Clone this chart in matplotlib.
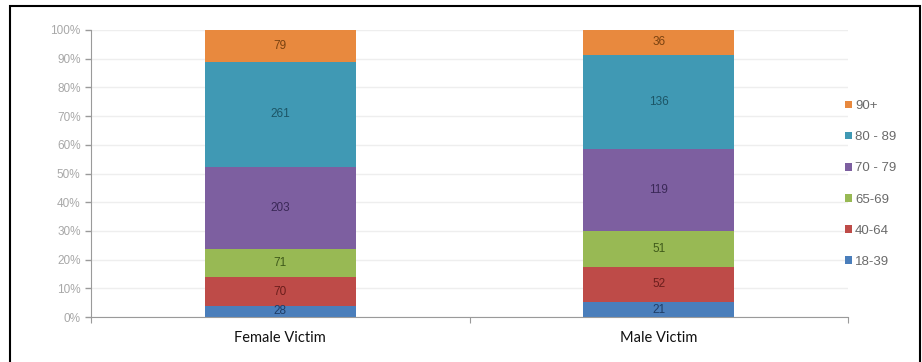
import numpy as np
import matplotlib.pyplot as plt
from matplotlib.patches import Rectangle

plt.rcParams["font.family"] = ["Liberation Sans", "DejaVu Sans"]

categories = ["Female Victim", "Male Victim"]
age_groups = ["18-39", "40-64", "65-69", "70 - 79", "80 - 89", "90+"]
female_counts = [28, 70, 71, 203, 261, 79]
male_counts = [21, 52, 51, 119, 136, 36]

colors = ["#4A7EBB", "#BE4B48", "#98B954", "#7D5FA0", "#4099B4", "#E8893E"]
text_colors = ["#1f3d66", "#6b1e1c", "#3f5a1a", "#3a2857", "#1c5566", "#7a4210"]

counts = np.array([female_counts, male_counts], dtype=float).T
shares = counts / counts.sum(axis=0) * 100

fig = plt.figure(figsize=(9.22, 3.62), dpi=100)
ax = fig.add_axes([91 / 922, 45 / 362, 757 / 922, 287 / 362])

x = np.arange(len(categories))
bottom = np.zeros(len(categories))
handles = []
for i, grp in enumerate(age_groups):
    bars = ax.bar(x, shares[i], 0.4, bottom=bottom, color=colors[i],
                  label=grp, zorder=2)
    handles.append(bars)
    for j in range(len(categories)):
        ax.text(x[j], bottom[j] + shares[i][j] / 2, f"{int(counts[i][j])}",
                ha="center", va="center", fontsize=8.5,
                color=text_colors[i], zorder=3)
    bottom += shares[i]

ax.set_xlim(-0.5, 1.5)
ax.set_ylim(0, 100)
ax.set_yticks(np.arange(0, 101, 10))
ax.set_yticklabels([f"{v}%" for v in range(0, 101, 10)])
ax.tick_params(axis="y", colors="#9a9a9a", labelsize=8.5, length=4, width=1,
               labelcolor="#a8a8a8")
ax.yaxis.grid(True, color="#eeeeee", linewidth=1, zorder=0)

ax.set_xticks([-0.5, 0.5, 1.5])
ax.set_xticklabels([])
ax.set_xticks(x, minor=True)
ax.set_xticklabels(categories, minor=True, fontsize=10.5,
                   family=["Lato", "DejaVu Sans"], color="#111111")
ax.tick_params(axis="x", which="major", colors="#9a9a9a", length=4)
ax.tick_params(axis="x", which="minor", length=0, pad=10)

for side in ["top", "right"]:
    ax.spines[side].set_visible(False)
ax.spines["left"].set_color("#9a9a9a")
ax.spines["bottom"].set_color("#9a9a9a")
ax.set_axisbelow(True)

leg = fig.legend(handles[::-1], age_groups[::-1], loc="center left",
                 bbox_to_anchor=(840 / 922, 1 - 184 / 362), frameon=False,
                 fontsize=9.5, handlelength=0.5, handleheight=0.5,
                 handletextpad=0.25, labelspacing=1.45, borderaxespad=0)
for t in leg.get_texts():
    t.set_color("#6a6a6a")

fig.patches.append(Rectangle((10 / 922, -0.05), 910 / 922, 1.05 - 6 / 362,
                             transform=fig.transFigure, fill=False,
                             edgecolor="black", linewidth=1.5))

fig.savefig("out.png", dpi=100)
